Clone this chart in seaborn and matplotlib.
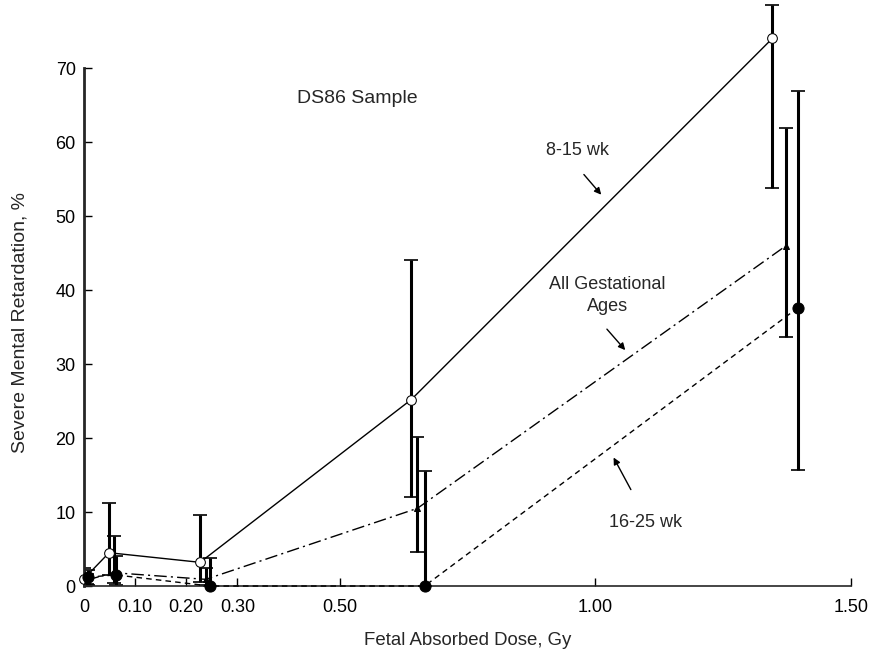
import matplotlib
matplotlib.use("Agg")
import matplotlib.pyplot as plt
import seaborn as sns

# dose (Gy) and % severe mental retardation
dose_8_15 = [0.0, 0.049, 0.227, 0.640, 1.346]
smr_8_15 = [1.0, 4.5, 3.2, 25.2, 74.0]
lo_8_15 = [0.2, 1.5, 0.6, 12.0, 53.8]
hi_8_15 = [2.5, 11.2, 9.6, 44.0, 78.5]

dose_all = [0.005, 0.058, 0.238, 0.652, 1.373]
smr_all = [0.8, 1.8, 0.9, 10.5, 46.0]
lo_all = [0.3, 0.4, 0.2, 4.6, 33.6]
hi_all = [1.6, 6.7, 2.5, 20.1, 61.9]

dose_16_25 = [0.008, 0.062, 0.246, 0.666, 1.396]
smr_16_25 = [1.2, 1.5, 0.0, 0.0, 37.6]
lo_16_25 = [0.2, 0.2, 0.0, 0.0, 15.7]
hi_16_25 = [2.2, 4.0, 3.8, 15.5, 66.9]

x_ticks = [0, 0.10, 0.20, 0.30, 0.50, 1.00, 1.50]
x_labels = ['0', '0.10', '0.20', '0.30', '0.50', '1.00', '1.50']
y_ticks = [0, 10, 20, 30, 40, 50, 60, 70]

sns.set_style("ticks")
plt.rcParams['font.family'] = ['Liberation Sans', 'DejaVu Sans']

fig = plt.figure(figsize=(8.79, 6.52), dpi=100)
ax = fig.add_axes([0.0956, 0.1012, 0.8726, 0.8988])

series = [
    (dose_8_15, smr_8_15, lo_8_15, hi_8_15, '-', dict(marker='o', markersize=7, markerfacecolor='white', markeredgecolor='black')),
    (dose_all, smr_all, lo_all, hi_all, (0, (9, 3, 1.5, 3)), dict(marker='^', markersize=5, markerfacecolor='black', markeredgecolor='black')),
    (dose_16_25, smr_16_25, lo_16_25, hi_16_25, (0, (4, 3)), dict(marker='o', markersize=8, markerfacecolor='black', markeredgecolor='black')),
]

for x, y, lo, hi, ls, mk in series:
    yerr = [[v - l for v, l in zip(y, lo)], [h - v for v, h in zip(y, hi)]]
    ax.errorbar(x, y, yerr=yerr, fmt='none', ecolor='black', elinewidth=2.2,
                capsize=5, capthick=1.2, zorder=2, clip_on=True)
    sns.lineplot(x=x, y=y, ax=ax, color='black', linewidth=1.0, linestyle=ls,
                 sort=False, errorbar=None, zorder=3, clip_on=False, **mk)

ax.set_xlim(0, 1.5)
ax.set_ylim(0, 79.2)
ax.spines['top'].set_visible(False)
ax.spines['right'].set_visible(False)
ax.spines['left'].set_bounds(0, 70)
ax.spines['left'].set_linewidth(2.0)
ax.spines['bottom'].set_linewidth(1.2)
ax.set_xticks(x_ticks)
ax.set_xticklabels(x_labels)
ax.set_yticks(y_ticks)
ax.tick_params(direction='in', length=6, width=1, labelsize=13, colors='black')
ax.tick_params(axis='x', pad=9)
ax.tick_params(axis='y', pad=6)

ax.set_xlabel('Fetal Absorbed Dose, Gy', fontsize=13.4, labelpad=12)
ax.set_ylabel('Severe Mental Retardation, %', fontsize=14)
ax.yaxis.set_label_coords(-0.072, 0.45)

ax.text(0.534, 65.9, 'DS86 Sample', fontsize=14, ha='center', va='center')

arrow = dict(arrowstyle='-|>', color='black', lw=1.0, mutation_scale=10)
ax.text(0.966, 58.9, '8-15 wk', fontsize=13, ha='center', va='center')
ax.annotate('', xy=(1.015, 52.6), xytext=(0.974, 55.9), arrowprops=arrow)

ax.text(1.023, 39.3, 'All Gestational\nAges', fontsize=13, ha='center', va='center',
        linespacing=1.4)
ax.annotate('', xy=(1.062, 31.6), xytext=(1.019, 35.0), arrowprops=arrow)

ax.text(1.099, 8.6, '16-25 wk', fontsize=13, ha='center', va='center')
ax.annotate('', xy=(1.033, 17.7), xytext=(1.072, 12.7), arrowprops=arrow)

fig.savefig('out.png', dpi=100)
